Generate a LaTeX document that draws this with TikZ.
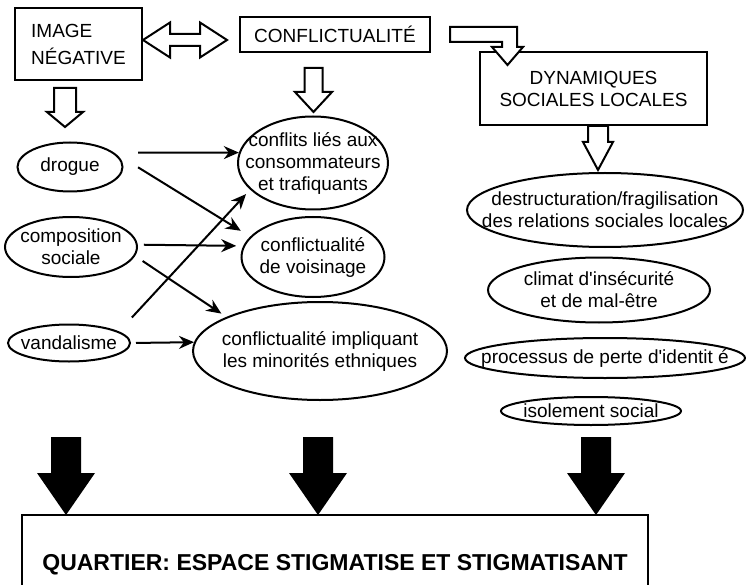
\documentclass[tikz,border=0pt]{standalone}
\usepackage{fontspec}
\setmainfont{Liberation Sans}
\usetikzlibrary{arrows.meta,
    shapes.geometric}
\tikzset{
  framebox/.style={rectangle, draw, line width=2.4pt, inner sep=0pt, align=center, font=\fontsize{19}{22}\selectfont},
  oval/.style={ellipse, draw, line width=2pt, inner sep=0pt},
  every label/.style={align=center, font=\fontsize{19}{22}\selectfont, inner sep=0pt},
  link/.style={line width=2pt, -{Stealth[length=15pt, width=13pt]}},
  hollow/.style={draw, line width=2pt, fill=white},
  }

\begin{document}
\begin{tikzpicture}[x=1pt, y=-1pt]
  \useasboundingbox (0,0) rectangle (746,585);
  \clip (0,0) rectangle (746,585);
  % three headings
  \node [framebox, minimum width=127pt, minimum height=72pt, align=left, font=\fontsize{19}{27}\selectfont] (imgneg) at (78.5,44) {IMAGE\\NÉGATIVE};
  \node [framebox, minimum width=190pt, minimum height=35pt] (conflict) at (335,34.5) {CONFLICTUALITÉ};
  \node [framebox, minimum width=227pt, minimum height=73pt] (dynam) at (593.5,88.5) {DYNAMIQUES\\SOCIALES LOCALES};

  % hollow arrows between the headings
  \draw [hollow] (143,40) -- (170,22.5) -- (170,34) -- (200,34) -- (200,22.5) -- (227,40)
    -- (200,57.5) -- (200,46) -- (170,46) -- (170,57.5) -- cycle;
  \draw [hollow] (450,27) -- (517,27) -- (517,47) -- (523,47) -- (507.5,65) -- (492,47)
    -- (502,47) -- (502,42) -- (450,42) -- cycle;
  \draw [hollow] (54,88) -- (76,88) -- (76,112) -- (83,112) -- (65,127) -- (47,112) -- (54,112) -- cycle;
  \draw [hollow] (304.5,68) -- (322.5,68) -- (322.5,92) -- (332,92) -- (313.5,112) -- (295,92) -- (304.5,92) -- cycle;
  \draw [hollow] (588,126) -- (608,126) -- (608,142) -- (613,142) -- (598,170) -- (583,142) -- (588,142) -- cycle;

  % causes
  \node [oval, minimum width=105pt, minimum height=49pt, label=center:drogue] (drogue) at (70,167) {};
  \node [oval, minimum width=132pt, minimum height=60pt, label=center:{composition\\sociale}] (compo) at (71,247) {};
  \node [oval, minimum width=122pt, minimum height=37pt, label=center:vandalisme] (vandal) at (69,343) {};

  % kinds of conflict
  \node [oval, minimum width=150pt, minimum height=93pt, label=center:{conflits liés aux\\consommateurs\\et trafiquants}] (conflits) at (313,163) {};
  \node [oval, minimum width=143pt, minimum height=80pt, label=center:{conflictualité\\de voisinage}] (voisin) at (313,257) {};
  \node [oval, minimum width=254pt, minimum height=98pt, label=center:{conflictualité impliquant\\les minorités ethniques}] (minor) at (320,351) {};

  % local dynamics
  \node [oval, minimum width=276pt, minimum height=74pt, label=center:{destructuration/fragilisation\\des relations sociales locales}] (destruct) at (605,210) {};
  \node [oval, minimum width=222pt, minimum height=65pt, label=center:{climat d\textquotesingle insécurité\\et de mal-être}] (climat) at (599,290) {};
  \node [oval, minimum width=280pt, minimum height=40pt, label=center:{processus de perte d\textquotesingle identit é}] (perte) at (605,358) {};
  \node [oval, minimum width=180pt, minimum height=28pt, label=center:{isolement social}] (isol) at (591,411) {};

  \draw [link, shorten <=24pt] (drogue.18) -- (conflits.172);
  \draw [link, shorten <=30pt, shorten >=11pt] (drogue.20) -- (voisin.162);
  \draw [link, shorten <=6pt, shorten >=7pt] (compo.2) -- (voisin.171);
  \draw [link, shorten <=9pt, shorten >=6pt] (compo.-8) -- (minor.160);
  \draw [link, shorten <=19pt, shorten >=6pt] (vandal.13) -- (conflits.203);
  \draw [link, shorten <=5pt] (vandal.east) -- (minor.176);

  % result
  \node [framebox, minimum width=626pt, minimum height=100pt, font=\bfseries\fontsize{23}{26}\selectfont] (quartier) at (335,565) {QUARTIER: ESPACE STIGMATISE ET STIGMATISANT};
  \foreach \x in {66,318,596}
    \fill (\x-15,437) -- (\x+15,437) -- (\x+15,473) -- (\x+29,473) -- (\x,515) -- (\x-29,473) -- (\x-15,473) -- cycle;
\end{tikzpicture}
\end{document}
